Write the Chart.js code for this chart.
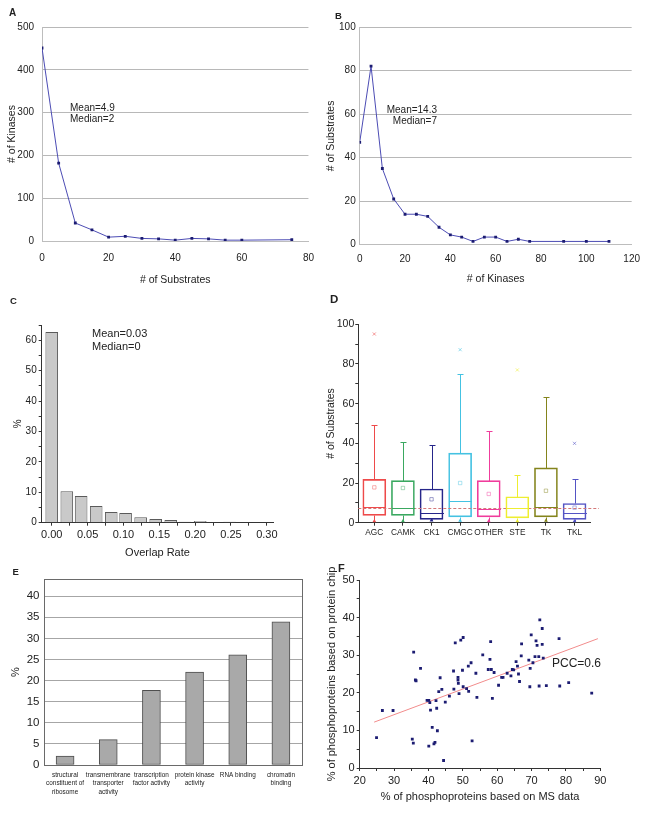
<!DOCTYPE html>
<html>
<head>
<meta charset="utf-8">
<script src="https://cdn.jsdelivr.net/npm/chart.js@4.4.0/dist/chart.umd.min.js"></script>
<style>
    body { margin: 0; background: #fff; width: 649px; height: 813px; position: relative; overflow: hidden;
           font-family: 'Liberation Sans', Arial, sans-serif; color: #222; }
    canvas { position: absolute; }
    .lbl { position: absolute; font-weight: bold; line-height: 1; }
    .note { position: absolute; font-size: 10px; line-height: 11px; white-space: nowrap; }
</style>
</head>
<body>
<canvas id="chartA"></canvas>
<canvas id="chartB"></canvas>
<canvas id="chartC"></canvas>
<canvas id="chartD"></canvas>
<canvas id="chartE"></canvas>
<canvas id="chartF"></canvas>

<div class="lbl" style="left:9px;top:8px;font-size:10px;">A</div>
<div class="lbl" style="left:335px;top:11px;font-size:9.5px;">B</div>
<div class="lbl" style="left:10px;top:296px;font-size:9.5px;">C</div>
<div class="lbl" style="left:330px;top:294px;font-size:11.5px;">D</div>
<div class="lbl" style="left:12.5px;top:567px;font-size:9.5px;">E</div>
<div class="lbl" style="left:338px;top:563px;font-size:11px;">F</div>

<div class="note" style="left:70px;top:102px;">Mean=4.9<br>Median=2</div>
<div class="note" style="left:380px;top:104px;width:57px;text-align:right;">Mean=14.3<br>Median=7</div>
<div class="note" style="left:92px;top:327px;font-size:11px;line-height:12.5px;">Mean=0.03<br>Median=0</div>
<div class="note" style="left:552px;top:658px;font-size:12px;">PCC=0.6</div>

<script>
// ---- A: number of kinases by number of substrates
const subsBins = [0, 5, 10, 15, 20, 25, 30, 35, 40, 45, 50, 55, 60, 75];
const kinaseCounts = [451, 182, 42, 26, 9, 11, 6, 5, 2, 6, 5, 2, 2, 3];

// ---- B: number of substrates by number of kinases
const kinaseBins = [0, 5, 10, 15, 20, 25, 30, 35, 40, 45, 50, 55, 60, 65, 70, 75, 90, 100, 110];
const substrateCounts = [47, 82, 35, 21, 14, 14, 13, 8, 4.5, 3.5, 1.5, 3.5, 3.5, 1.5, 2.5, 1.5, 1.5, 1.5, 1.5];

// ---- C: overlap rate histogram
const overlapBins = [0, 0.021, 0.041, 0.062, 0.083, 0.103, 0.124, 0.145, 0.166, 0.186, 0.207, 0.228, 0.248, 0.269, 0.29];
const overlapPct = [62.7, 10.3, 8.8, 5.5, 3.5, 3.2, 1.8, 1.2, 0.9, 0.3, 0.6, 0.2, 0.3, 0.1, 0.05];
const overlapTicks = [0, 0.025, 0.05, 0.075, 0.1, 0.125, 0.15, 0.175, 0.2, 0.225, 0.25, 0.275, 0.3];

// ---- D: substrates per kinase family (box plots)
const families = ['AGC', 'CAMK', 'CK1', 'CMGC', 'OTHER', 'STE', 'TK', 'TKL'];
const boxQ1 = [3.7, 3.7, 1.7, 2.9, 2.9, 2.4, 2.9, 1.7];
const boxQ3 = [21.8, 21.2, 17, 35.1, 21.2, 13.1, 27.6, 9.7];
const boxMedian = [7.9, 7.3, 4.9, 10.9, 7.1, 7.5, 7.9, 4.7];
const whiskerHigh = [49.2, 40.8, 39, 75, 46, 23.9, 63.2, 21.8];
const whiskerLow = [0.8, 0.8, 1.2, 1, 0.8, 0.8, 1, 0.8];
const boxMean = [17.8, 17.5, 11.8, 20, 14.5, null, 16.1, 7.6];
const boxOutlier = [95.1, null, null, 87.2, null, 77, null, 40];
const overallMedian = 7.6;
const familyColors = ['#ee4a4a', '#3aa860', '#26268a', '#44c2e2', '#f03c9c', '#eeee30', '#84841c', '#5454c4'];

// ---- E: GO terms
const goTerms = [
    ['structural', 'constituent of', 'ribosome'],
    ['transmembrane', 'transporter', 'activity'],
    ['transcription', 'factor activity'],
    ['protein kinase', 'activity'],
    ['RNA binding'],
    ['chromatin', 'binding']
];
const goPct = [2.1, 6.0, 17.7, 22.0, 26.1, 33.9];

// ---- F: MS data vs protein chip
const msPct = [24.9, 26.6, 29.7, 35.3, 35.6, 35.7, 36.2, 36.4, 37.7, 39.6,
    40.1, 40.1, 40.4, 40.6, 41.1, 41.6, 41.9, 42.2, 42.4, 42.6,
    43.0, 43.4, 43.9, 44.4, 44.9, 46.1, 47.3, 47.4, 47.8, 48.6,
    48.6, 48.7, 48.9, 49.4, 49.9, 50.1, 50.1, 51.1, 51.6, 51.7,
    52.4, 52.7, 53.8, 54.1, 55.8, 57.4, 57.9, 58.1, 58.3, 58.6,
    59.1, 60.4, 61.3, 61.7, 62.9, 64.0, 64.4, 64.8, 65.5, 65.9,
    66.2, 66.5, 67.1, 67.0, 69.2, 69.6, 69.5, 69.9, 70.4, 71.0,
    71.3, 71.6, 72.1, 72.2, 72.4, 73.1, 73.1, 73.4, 74.3, 78.0,
    78.2, 80.8, 87.5];
const chipPct = [8.1, 15.3, 15.3, 7.7, 6.6, 30.8, 23.4, 23.2, 26.5, 18.0,
    18.0, 5.8, 17.4, 15.4, 10.8, 6.4, 6.8, 17.9, 15.9, 9.9,
    20.3, 24.0, 20.9, 2.0, 17.5, 19.1, 25.8, 21.0, 33.3, 24.1,
    23.4, 22.5, 19.8, 34.0, 26.0, 21.6, 34.7, 21.1, 27.1, 20.4,
    28.0, 7.2, 25.2, 18.8, 30.1, 26.2, 28.9, 33.6, 26.2, 18.5,
    25.4, 22.0, 24.1, 24.1, 25.2, 24.5, 26.2, 26.1, 28.3, 27.1,
    25.0, 23.0, 33.0, 29.8, 28.7, 26.5, 21.6, 35.4, 28.0, 29.6,
    33.8, 32.6, 29.6, 21.8, 39.4, 37.1, 32.9, 29.2, 21.9, 34.4,
    21.8, 22.7, 19.9];
const fitLine = [{ x: 24.2, y: 12.2 }, { x: 89.3, y: 34.4 }];

Chart.defaults.font.family = "'Liberation Sans', Arial, sans-serif";
Chart.defaults.color = '#222';

const lineBlue = '#4c4cb4';
const markNavy = '#1c1c72';
const axisDark = '#333';

function makeCanvas(id, left, top, w, h) {
    const c = document.getElementById(id);
    c.width = w;
    c.height = h;
    c.style.left = left + 'px';
    c.style.top = top + 'px';
    return c;
}

// fixed plot area: padding top/right, y axis width, x axis height
function base(padTop, padRight) {
    return {
        responsive: false,
        animation: false,
        devicePixelRatio: 1,
        layout: { padding: { top: padTop, right: padRight, left: 0, bottom: 0 } },
        plugins: { legend: { display: false }, tooltip: { enabled: false } }
    };
}

function minorLabel(step) {
    return v => (Math.abs(Math.round(v * 1000) % Math.round(step * 1000)) === 0 ? String(v) : '');
}

// draws a frame around the plot area
const frame = {
    id: 'frame',
    afterDraw(chart) {
        const a = chart.chartArea, ctx = chart.ctx;
        ctx.save();
        ctx.strokeStyle = '#6a6a6a';
        ctx.lineWidth = 1;
        ctx.strokeRect(Math.round(a.left) + 0.5, Math.round(a.top) + 0.5, Math.round(a.width) - 1, Math.round(a.height));
        ctx.restore();
    }
};

// whiskers, caps and medians for panel D
const boxWhiskers = {
    id: 'boxWhiskers',
    afterDatasetsDraw(chart) {
        const { ctx, scales: { x, y } } = chart;
        const boxes = chart.getDatasetMeta(0).data;
        ctx.save();
        ctx.lineWidth = 1;
        // overall median reference line
        const ry = Math.round(y.getPixelForValue(overallMedian)) + 0.5;
        ctx.strokeStyle = '#d47878';
        ctx.setLineDash([3, 2]);
        ctx.beginPath();
        ctx.moveTo(chart.chartArea.left, ry);
        ctx.lineTo(chart.chartArea.right + 9, ry);
        ctx.stroke();
        ctx.setLineDash([]);
        families.forEach((f, i) => {
            const cx = Math.round(x.getPixelForValue(i + 1)) + 0.5;
            const half = boxes[i].width / 2;
            const py = v => Math.round(y.getPixelForValue(v)) + 0.5;
            ctx.strokeStyle = familyColors[i];
            ctx.beginPath();
            ctx.moveTo(cx, py(boxQ3[i]));
            ctx.lineTo(cx, py(whiskerHigh[i]));
            ctx.moveTo(cx - 3, py(whiskerHigh[i]));
            ctx.lineTo(cx + 3, py(whiskerHigh[i]));
            ctx.moveTo(cx, py(boxQ1[i]));
            ctx.lineTo(cx, py(whiskerLow[i]));
            ctx.moveTo(cx - half, py(boxMedian[i]));
            ctx.lineTo(cx + half, py(boxMedian[i]));
            ctx.stroke();
        });
        ctx.restore();
    }
};

// ---------------- A
new Chart(makeCanvas('chartA', 0, 0, 325, 290), {
    type: 'line',
    data: {
        datasets: [{
            data: subsBins.map((x, i) => ({ x, y: kinaseCounts[i] })),
            borderColor: lineBlue, borderWidth: 1, tension: 0,
            pointStyle: 'rect', pointRadius: 2, pointBackgroundColor: markNavy, pointBorderWidth: 0
        }]
    },
    options: {
        ...base(27, 15),
        scales: {
            x: {
                type: 'linear', min: 0, max: 80,
                afterFit: s => { s.height = 49; },
                ticks: { stepSize: 20, padding: 11, font: { size: 10 } },
                grid: { display: false, drawTicks: false },
                border: { color: '#bdbdbd' },
                title: { display: true, text: '# of Substrates', font: { size: 10.5 }, padding: { top: 0, bottom: 3.7 } }
            },
            y: {
                min: 0, max: 500,
                afterFit: s => { s.width = 42; },
                ticks: { stepSize: 100, padding: 8, font: { size: 10 } },
                grid: { color: '#b8b8b8', drawTicks: false },
                border: { color: '#bdbdbd' },
                title: { display: true, text: '# of Kinases', font: { size: 10.5 }, padding: { top: 5.7, bottom: 0 } }
            }
        }
    }
});

// ---------------- B
new Chart(makeCanvas('chartB', 325, 0, 324, 290), {
    type: 'line',
    data: {
        datasets: [{
            data: kinaseBins.map((x, i) => ({ x, y: substrateCounts[i] })),
            borderColor: lineBlue, borderWidth: 1, tension: 0,
            pointStyle: 'rect', pointRadius: 2, pointBackgroundColor: markNavy, pointBorderWidth: 0
        }]
    },
    options: {
        ...base(27, 17.3),
        scales: {
            x: {
                type: 'linear', min: 0, max: 120,
                afterFit: s => { s.height = 45.3; },
                ticks: { stepSize: 20, padding: 9, font: { size: 10 } },
                grid: { display: false, drawTicks: false },
                border: { color: '#bdbdbd' },
                title: { display: true, text: '# of Kinases', font: { size: 10.5 }, padding: { top: 0, bottom: 4.4 } }
            },
            y: {
                min: 0, max: 100,
                afterFit: s => { s.width = 34.7; },
                ticks: { stepSize: 20, padding: 4, font: { size: 10 } },
                grid: { color: '#b8b8b8', drawTicks: false },
                border: { color: '#bdbdbd' },
                title: { display: true, text: '# of Substrates', font: { size: 10.5 }, padding: { top: 0, bottom: 0 } }
            }
        }
    }
});

// ---------------- C
new Chart(makeCanvas('chartC', 0, 290, 325, 272), {
    type: 'bar',
    data: {
        datasets: [{
            data: overlapBins.map((x, i) => ({ x, y: overlapPct[i] })),
            backgroundColor: '#c9c9c9', borderColor: '#5a5a5a', borderWidth: 1,
            categoryPercentage: 1, barPercentage: 0.88
        }]
    },
    options: {
        ...base(35, 51.7),
        scales: {
            x: {
                type: 'linear', min: -0.014, max: 0.309, offset: false,
                afterFit: s => { s.height = 39.3; },
                afterBuildTicks: s => { s.ticks = overlapTicks.map(v => ({ value: v })); },
                ticks: { autoSkip: false, maxRotation: 0, padding: 3, font: { size: 11 },
                    callback: (v, i) => (i % 2 === 0 ? v.toFixed(2) : '') },
                grid: { drawOnChartArea: false, offset: false, tickLength: 3, color: axisDark },
                border: { color: axisDark },
                title: { display: true, text: 'Overlap Rate', font: { size: 11 }, padding: { top: 0, bottom: 2.7 } }
            },
            y: {
                min: 0, max: 65,
                afterFit: s => { s.width = 41.7; },
                ticks: { stepSize: 5, autoSkip: false, padding: 2, font: { size: 10 }, callback: minorLabel(10) },
                grid: { drawOnChartArea: false, tickLength: 3, color: axisDark },
                border: { color: axisDark },
                title: { display: true, text: '%', font: { size: 10 }, padding: { top: 12, bottom: 0 } }
            }
        }
    }
});

// ---------------- D
const meanPts = [], meanCols = [], outPts = [], outCols = [], lowPts = [];
families.forEach((f, i) => {
    if (boxMean[i] != null) { meanPts.push({ x: i + 1, y: boxMean[i] }); meanCols.push(familyColors[i] + '70'); }
    if (boxOutlier[i] != null) { outPts.push({ x: i + 1, y: boxOutlier[i] }); outCols.push(familyColors[i] + '90'); }
    lowPts.push({ x: i + 1, y: whiskerLow[i] });
});

new Chart(makeCanvas('chartD', 325, 290, 324, 250), {
    type: 'bar',
    data: {
        datasets: [
            {
                data: families.map((f, i) => ({ x: i + 1, y: [boxQ1[i], boxQ3[i]] })),
                backgroundColor: 'rgba(0,0,0,0)', borderColor: familyColors, borderWidth: 1,
                borderSkipped: false, barThickness: 23
            },
            {
                type: 'scatter', data: meanPts, pointStyle: 'rect', pointRadius: 2.4,
                pointBackgroundColor: 'rgba(0,0,0,0)', pointBorderColor: meanCols, pointBorderWidth: 1
            },
            {
                type: 'scatter', data: outPts, pointStyle: 'crossRot', pointRadius: 2.2,
                pointBorderColor: outCols, pointBorderWidth: 1
            },
            {
                type: 'scatter', data: lowPts, pointStyle: 'triangle', pointRadius: 2.2,
                pointBackgroundColor: familyColors, pointBorderColor: familyColors, pointBorderWidth: 0
            }
        ]
    },
    options: {
        ...base(34.3, 59),
        scales: {
            x: {
                type: 'linear', min: 0.44, max: 8.54, offset: false,
                afterFit: s => { s.height = 17.3; },
                afterBuildTicks: s => { s.ticks = families.map((f, i) => ({ value: i + 1 })); },
                ticks: { autoSkip: false, maxRotation: 0, padding: 2, font: { size: 8.3 },
                    callback: v => families[v - 1] || '' },
                grid: { drawOnChartArea: false, offset: false, tickLength: 3, color: axisDark },
                border: { color: axisDark }
            },
            y: {
                min: 0, max: 100,
                afterFit: s => { s.width = 33.3; },
                ticks: { stepSize: 10, autoSkip: false, padding: 1, font: { size: 10.5 }, callback: minorLabel(20) },
                grid: { drawOnChartArea: false, tickLength: 3, color: axisDark },
                border: { color: axisDark },
                title: { display: true, text: '# of Substrates', font: { size: 10.5 }, padding: { top: 0, bottom: 0 } }
            }
        }
    },
    plugins: [boxWhiskers]
});

// ---------------- E
new Chart(makeCanvas('chartE', 0, 562, 325, 251), {
    type: 'bar',
    data: {
        labels: goTerms,
        datasets: [{
            data: goPct, backgroundColor: '#a9a9a9', borderColor: '#4e4e4e', borderWidth: 1,
            borderSkipped: false, barThickness: 18
        }]
    },
    options: {
        ...base(17.3, 22.5),
        scales: {
            x: {
                afterFit: s => { s.height = 48; },
                ticks: { autoSkip: false, maxRotation: 0, padding: 6,
                    font: { size: 6.4, lineHeight: 1.3 } },
                grid: { display: false, drawTicks: false },
                border: { display: false }
            },
            y: {
                min: 0, max: 44,
                afterFit: s => { s.width = 43.5; },
                afterBuildTicks: s => { s.ticks = s.ticks.filter(t => t.value <= 40); },
                ticks: { stepSize: 5, padding: 4, font: { size: 11.5 } },
                grid: { color: '#a6a6a6', drawTicks: false },
                border: { display: false },
                title: { display: true, text: '%', font: { size: 11 }, padding: { top: 9, bottom: 0 } }
            }
        }
    },
    plugins: [frame]
});

// ---------------- F
new Chart(makeCanvas('chartF', 325, 562, 324, 251), {
    type: 'scatter',
    data: {
        datasets: [
            {
                data: msPct.map((x, i) => ({ x, y: chipPct[i] })),
                pointStyle: 'rect', pointRadius: 2, pointBackgroundColor: markNavy, pointBorderWidth: 0
            },
            {
                type: 'line', data: fitLine, borderColor: '#f28c8c', borderWidth: 1, pointRadius: 0
            }
        ]
    },
    options: {
        ...base(18, 48.7),
        scales: {
            x: {
                type: 'linear', min: 20, max: 90,
                afterFit: s => { s.height = 45; },
                ticks: { stepSize: 5, autoSkip: false, maxRotation: 0, padding: 3, font: { size: 11 }, callback: minorLabel(10) },
                grid: { drawOnChartArea: false, tickLength: 3, color: axisDark },
                border: { color: axisDark },
                title: { display: true, text: '% of phosphoproteins based on MS data', font: { size: 11 }, padding: { top: 0, bottom: 9.4 } }
            },
            y: {
                min: 0, max: 50,
                afterFit: s => { s.width = 34.7; },
                ticks: { stepSize: 5, autoSkip: false, padding: 2, font: { size: 11 }, callback: minorLabel(10) },
                grid: { drawOnChartArea: false, tickLength: 3, color: axisDark },
                border: { color: axisDark },
                title: { display: true, text: '% of phosphoproteins based on protein chip', font: { size: 11 }, padding: { top: 0, bottom: 0 } }
            }
        }
    }
});
</script>
</body>
</html>
